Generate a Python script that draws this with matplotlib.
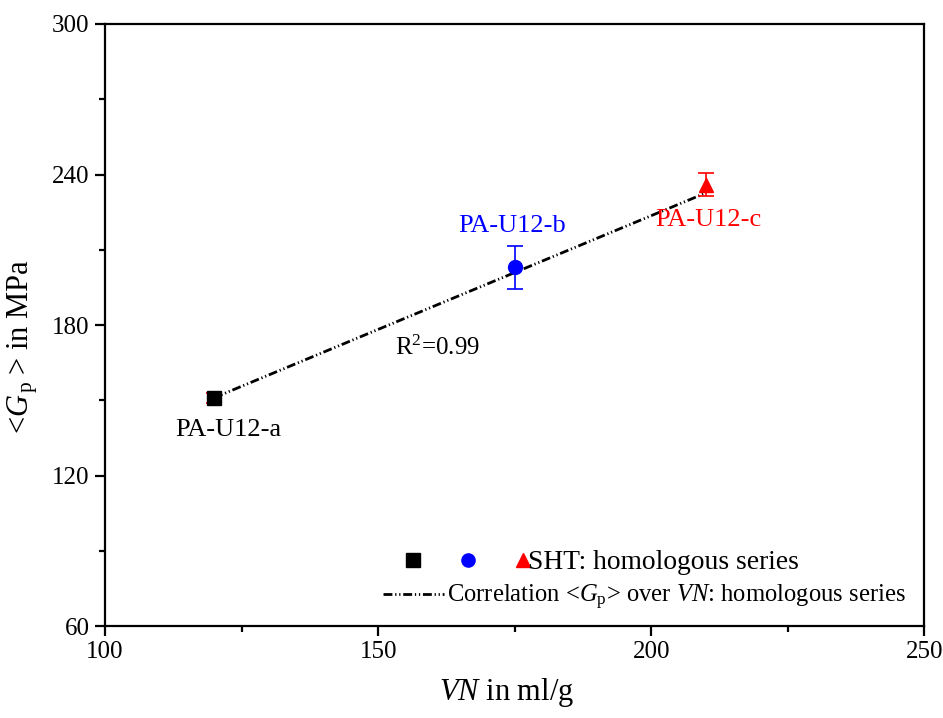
import matplotlib.pyplot as plt
from matplotlib.legend_handler import HandlerTuple
from matplotlib.lines import Line2D

plt.rcParams['font.family'] = ['Liberation Serif', 'DejaVu Serif']
plt.rcParams['mathtext.fontset'] = 'custom'
plt.rcParams['mathtext.rm'] = 'Liberation Serif'
plt.rcParams['mathtext.it'] = 'Liberation Serif:italic'

samples = ['PA-U12-a', 'PA-U12-b', 'PA-U12-c']
vn = [120, 175, 210]
gp = [151, 203, 236]
gp_err = [2, 8.6, 4.6]
colors = ['black', 'blue', 'red']
err_colors = ['red', 'blue', 'red']
markers = ['s', 'o', '^']

# linear fit <Gp> over VN
fit_slope = 0.907
fit_icpt = 42.2
fit_x = [120, 210]
r2_text = 'R$^2$=0.99'

dash_style = (3.2, 1.0, 0.45, 1.0, 0.45, 1.0)

fig = plt.figure(figsize=(9.43, 7.18), dpi=100)
ax = fig.add_axes([0.1113, 0.128, 0.869, 0.8386])

fy = [fit_slope * x + fit_icpt for x in fit_x]
ax.plot(fit_x, fy, color='black', lw=2, dashes=dash_style, zorder=2)

handles = []
for i in range(3):
    ax.errorbar(vn[i], gp[i], yerr=gp_err[i], fmt='none', ecolor=err_colors[i],
                elinewidth=1.2, capsize=6, capthick=1.2, zorder=3)
    h, = ax.plot(vn[i], gp[i], marker=markers[i], color=colors[i], ms=10, ls='none', zorder=4)
    handles.append(h)

ax.text(122.5, 138, samples[0], color='black', fontsize=19, ha='center', va='center')
ax.text(174.5, 219.5, samples[1], color='blue', fontsize=19, ha='center', va='center')
ax.text(210.5, 222, samples[2], color='red', fontsize=19, ha='center', va='center')
ax.text(160.8, 171, r2_text, fontsize=18, ha='center', va='center')

ax.set_xlim(100, 250)
ax.set_ylim(60, 300)
ax.set_xticks([100, 150, 200, 250])
ax.set_xticks([125, 175, 225], minor=True)
ax.set_yticks([60, 120, 180, 240, 300])
ax.set_yticks([90, 150, 210, 270], minor=True)
ax.tick_params(labelsize=18, direction='out', length=7.5, width=1.6, top=False, right=False)
ax.tick_params(which='minor', direction='out', length=4, width=1.6)
for s in ax.spines.values():
    s.set_linewidth(1.6)

ax.set_xlabel(r'$\mathit{VN}$ in ml/g', fontsize=22)
ax.set_ylabel(r'<$\mathit{G}_{\,\mathrm{p}}\;$> in MPa', fontsize=22)
ax.xaxis.set_label_coords(0.49, -0.083)
ax.yaxis.set_label_coords(-0.079, 0.465)

# two legend rows, laid out separately
leg1 = ax.legend([tuple(handles)], ['SHT: homologous series'],
                 handler_map={tuple: HandlerTuple(ndivide=None, pad=1.6)},
                 loc='center left', bbox_to_anchor=(0.369, 0.105), borderaxespad=0, borderpad=0,
                 frameon=False, fontsize=19.8, handlelength=4.4, handletextpad=0.0, markerscale=0.95)
ax.add_artist(leg1)

leg_line = Line2D([], [], color='black', lw=2, dashes=dash_style)
ax.legend([leg_line], [r'Correlation <$\mathit{G}_{\mathrm{p}}$> over $\mathit{VN}$: homologous series'],
          loc='center left', bbox_to_anchor=(0.339, 0.047), borderaxespad=0, borderpad=0,
          frameon=False, fontsize=17.7, handlelength=2.5, handletextpad=0.1)

plt.savefig('out.png', dpi=100)
